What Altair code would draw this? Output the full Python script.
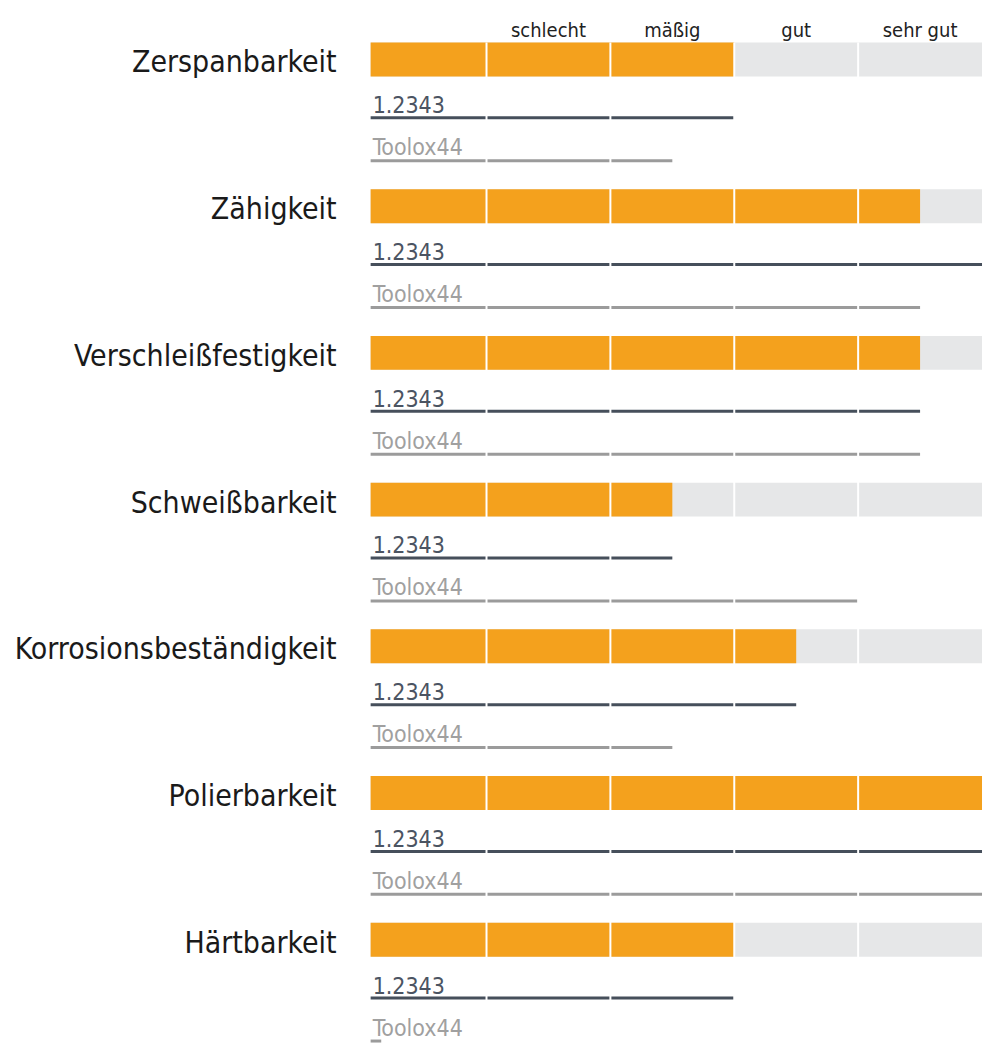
import altair as alt
import pandas as pd

# ---- data ----
properties = ["Zerspanbarkeit", "Zähigkeit", "Verschleißfestigkeit", "Schweißbarkeit",
              "Korrosionsbeständigkeit", "Polierbarkeit", "Härtbarkeit"]
overall = [3, 4.5, 4.5, 2.5, 3.5, 5, 3]
steel_12343 = [3, 5, 4.5, 2.5, 3.5, 5, 3]
toolox44 = [2.5, 4.5, 4.5, 4, 2.5, 5, 0.15]
series_names = ["1.2343", "Toolox44"]
grades = ["schlecht", "mäßig", "gut", "sehr gut"]
max_score = 5
dividers = [1, 2, 3, 4]

# ---- layout constants ----
ROW = 147.0
W = 612
H = int(6.85 * ROW)
FONT = "DejaVu Sans Condensed"
ORANGE = "#F4A11D"
BG = "#E6E7E8"
DARK = "#464F5B"
LIGHT = "#9B9B9B"
DARK_TXT = "#4B5462"
LIGHT_TXT = "#A0A0A0"

n = len(properties)
df = pd.DataFrame({
    "prop": properties,
    "row": list(range(n)),
    "overall": overall,
    "s1": steel_12343,
    "s2": toolox44,
})
df["start"] = 0
df["full"] = max_score
df["bar_top"] = df["row"]
df["bar_bot"] = df["row"] + 34 / ROW
df["label_y"] = df["row"] + 30 / ROW
df["s1_y"] = df["row"] + 75.5 / ROW
df["s2_y"] = df["row"] + 118.5 / ROW
df["s1_txt_y"] = df["row"] + 71 / ROW
df["s2_txt_y"] = df["row"] + 113 / ROW
df["s1_name"] = series_names[0]
df["s2_name"] = series_names[1]

xs = alt.Scale(domain=[8 / 124, max_score], clamp=True, nice=False, zero=False)
ys = alt.Scale(domain=[0, 6.85], reverse=True, nice=False, zero=False)
noax = None

base = alt.Chart(df)

bg = base.mark_rect(color=BG).encode(
    x=alt.X("start:Q", scale=xs, axis=noax), x2="full:Q",
    y=alt.Y("bar_top:Q", scale=ys, axis=noax), y2="bar_bot:Q")
bars = base.mark_rect(color=ORANGE).encode(
    x=alt.X("start:Q", scale=xs, axis=noax), x2="overall:Q",
    y=alt.Y("bar_top:Q", scale=ys, axis=noax), y2="bar_bot:Q")
line1 = base.mark_rule(color=DARK, strokeWidth=3).encode(
    x=alt.X("start:Q", scale=xs, axis=noax), x2="s1:Q",
    y=alt.Y("s1_y:Q", scale=ys, axis=noax))
line2 = base.mark_rule(color=LIGHT, strokeWidth=3).encode(
    x=alt.X("start:Q", scale=xs, axis=noax), x2="s2:Q",
    y=alt.Y("s2_y:Q", scale=ys, axis=noax))
txt1 = base.mark_text(font=FONT, fontSize=23, color=DARK_TXT, align="left",
                      baseline="alphabetic", dx=2).encode(
    x=alt.value(0), y=alt.Y("s1_txt_y:Q", scale=ys, axis=noax), text="s1_name:N")
txt2 = base.mark_text(font=FONT, fontSize=23, color=LIGHT_TXT, align="left",
                      baseline="alphabetic", dx=2).encode(
    x=alt.value(0), y=alt.Y("s2_txt_y:Q", scale=ys, axis=noax), text="s2_name:N")
labels = base.mark_text(font=FONT, fontSize=30, color="#1A1A1A", align="right",
                        baseline="alphabetic").encode(
    x=alt.value(-34), y=alt.Y("label_y:Q", scale=ys, axis=noax), text="prop:N")

div_df = pd.DataFrame({"d": dividers})
divs = alt.Chart(div_df).mark_rule(color="white", strokeWidth=2).encode(
    x=alt.X("d:Q", scale=xs, axis=noax))

hdr_df = pd.DataFrame({"grade": grades, "pos": [i + 1.5 for i in range(len(grades))]})
header = alt.Chart(hdr_df).mark_text(font=FONT, fontSize=20, color="#222222",
                                     align="center", baseline="alphabetic").encode(
    x=alt.X("pos:Q", scale=xs, axis=noax), y=alt.value(-6), text="grade:N")

chart = alt.layer(bg, bars, line1, line2, divs, txt1, txt2, labels, header).properties(
    width=W, height=H,
    autosize=alt.AutoSizeParams(type="none"),
    padding={"left": 363, "top": 34, "right": 10, "bottom": 6},
).configure_view(stroke=None)

chart.save("out.html", embed_options={"renderer": "svg", "actions": False})
